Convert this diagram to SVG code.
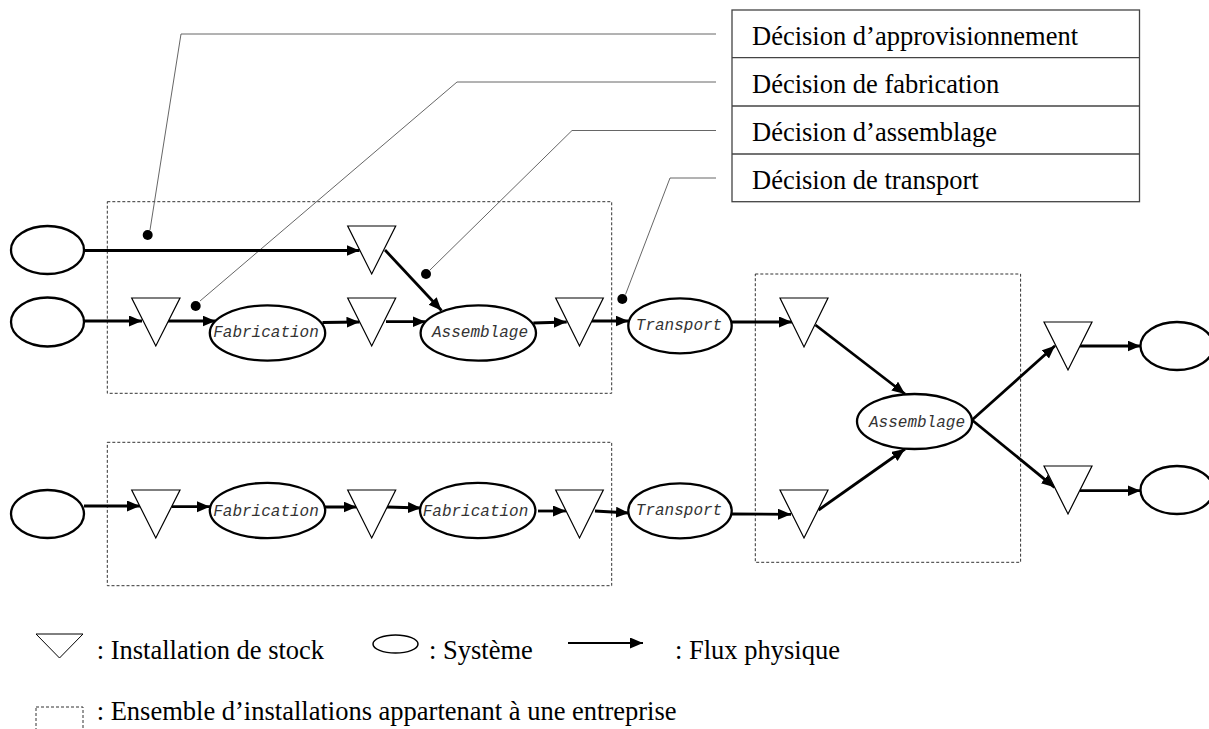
<svg xmlns="http://www.w3.org/2000/svg" width="1209" height="729" viewBox="0 0 1209 729">
<defs>
<marker id="ah" markerUnits="userSpaceOnUse" markerWidth="15" markerHeight="13" refX="13" refY="5.5" orient="auto">
<path d="M0,0 L13,5.5 L0,11 z" fill="#000"/>
</marker>
<style>
.box{fill:none;stroke:#333;stroke-width:1;stroke-dasharray:3 2}
.lead{fill:none;stroke:#555;stroke-width:0.9}
.dot{fill:#000}
.flow{fill:none;stroke:#000;stroke-width:2.8;marker-end:url(#ah)}
.tri{fill:#fff;stroke:#000;stroke-width:1.2}
.sys{fill:#fff;stroke:#000;stroke-width:2.3}
.lbl{font-family:"Liberation Mono","Courier New",monospace;font-style:italic;font-size:16px;fill:#333;text-anchor:middle}
.tab{fill:#fff;stroke:#444;stroke-width:1.3}
.tt{font-family:"Liberation Serif","Times New Roman",serif;font-size:26.5px;fill:#000}
</style>
</defs>
<rect width="1209" height="729" fill="#fff"/>

<g id="entreprises">
<rect class="box" x="107.3" y="201.7" width="504.4" height="191.6"/>
<rect class="box" x="107.3" y="442.3" width="504.4" height="143.4"/>
<rect class="box" x="755.3" y="274" width="265.3" height="288.3"/>
</g>

<g id="decisions">
<rect class="tab" x="732" y="10" width="407.5" height="191.7"/>
<line class="tab" x1="732" y1="57.7" x2="1139.5" y2="57.7"/>
<line class="tab" x1="732" y1="106" x2="1139.5" y2="106"/>
<line class="tab" x1="732" y1="154" x2="1139.5" y2="154"/>
<text class="tt" x="752" y="45">Décision d’approvisionnement</text>
<text class="tt" x="752" y="93">Décision de fabrication</text>
<text class="tt" x="752" y="140.5">Décision d’assemblage</text>
<text class="tt" x="752" y="188.5">Décision de transport</text>
</g>

<g id="leaders">
<polyline class="lead" points="716,34 181,34 150,230"/>
<polyline class="lead" points="716,82 457,82 200,301"/>
<polyline class="lead" points="716,130.5 572,130.5 430,270"/>
<polyline class="lead" points="716,178 670,178 625.5,294.5"/>
<circle class="dot" cx="147.7" cy="235" r="5"/>
<circle class="dot" cx="195.7" cy="306" r="5"/>
<circle class="dot" cx="426" cy="274" r="5"/>
<circle class="dot" cx="622.3" cy="299" r="5"/>
</g>

<g id="connectors">
<line class="flow" x1="84" y1="250.5" x2="359.5" y2="250.5"/>
<line class="flow" x1="385" y1="250" x2="441.5" y2="310.5"/>
<line class="flow" x1="84" y1="321" x2="142" y2="321"/>
<line class="flow" x1="168" y1="321" x2="215.5" y2="321"/>
<line class="flow" x1="322.5" y1="322.5" x2="359.5" y2="322"/>
<line class="flow" x1="386" y1="321.7" x2="425.5" y2="321.7"/>
<line class="flow" x1="533.3" y1="323" x2="566.7" y2="322"/>
<line class="flow" x1="591.7" y1="321" x2="628.5" y2="321"/>
<line class="flow" x1="731.7" y1="322" x2="792" y2="322"/>
<line class="flow" x1="815.5" y1="325" x2="905" y2="394"/>
<line class="flow" x1="84" y1="506" x2="140" y2="506"/>
<line class="flow" x1="172" y1="506.7" x2="210" y2="506.7"/>
<line class="flow" x1="324" y1="507" x2="356.5" y2="507"/>
<line class="flow" x1="387" y1="507" x2="421" y2="508"/>
<line class="flow" x1="538" y1="511" x2="566" y2="511"/>
<line class="flow" x1="595" y1="511" x2="629" y2="513"/>
<line class="flow" x1="732" y1="514" x2="791" y2="514.3"/>
<line class="flow" x1="818.6" y1="510" x2="905" y2="449"/>
<line class="flow" x1="972" y1="420" x2="1055" y2="345.7"/>
<line class="flow" x1="1080" y1="346" x2="1140.5" y2="346"/>
<line class="flow" x1="972" y1="420" x2="1054.5" y2="487.3"/>
<line class="flow" x1="1080" y1="490.7" x2="1140.5" y2="490.7"/>
</g>

<g id="systeme-src1"><ellipse class="sys" cx="47.5" cy="250" rx="36.5" ry="24"/></g>
<g id="systeme-src2"><ellipse class="sys" cx="47.5" cy="322" rx="36.5" ry="24.5"/></g>
<g id="systeme-src3"><ellipse class="sys" cx="47.5" cy="514" rx="36.5" ry="24"/></g>

<g id="stock-r1"><polygon class="tri" points="347.7,226 395.7,226 371.7,274"/></g>
<g id="stock-r2a"><polygon class="tri" points="131.7,298 180,298 155.8,346"/></g>
<g id="stock-r2b"><polygon class="tri" points="347.7,298 395.7,298 371.7,346"/></g>
<g id="stock-r2c"><polygon class="tri" points="555.7,298 603.3,298 579.5,346"/></g>
<g id="stock-r3a"><polygon class="tri" points="131.7,490 180,490 155.8,538"/></g>
<g id="stock-r3b"><polygon class="tri" points="347.7,490 395.7,490 371.7,538"/></g>
<g id="stock-r3c"><polygon class="tri" points="555.7,490 603.3,490 579.5,538"/></g>
<g id="stock-m1"><polygon class="tri" points="780,298 828,298 804,347"/></g>
<g id="stock-m2"><polygon class="tri" points="780,490 828,490 804,538"/></g>
<g id="stock-o1"><polygon class="tri" points="1044,322 1092,322 1068,370"/></g>
<g id="stock-o2"><polygon class="tri" points="1044,466 1092,466 1068,514"/></g>

<g id="fabrication-1"><ellipse class="sys" cx="267.5" cy="333" rx="57.7" ry="27.6"/><text class="lbl" x="266" y="337">Fabrication</text></g>
<g id="assemblage-1"><ellipse class="sys" cx="478.3" cy="333" rx="57.7" ry="27.7"/><text class="lbl" x="480" y="337">Assemblage</text></g>
<g id="transport-1"><ellipse class="sys" cx="680" cy="325.8" rx="51.7" ry="27.5"/><text class="lbl" x="679" y="330">Transport</text></g>
<g id="fabrication-2"><ellipse class="sys" cx="267.5" cy="510.5" rx="57.7" ry="27.7"/><text class="lbl" x="266" y="515.5">Fabrication</text></g>
<g id="fabrication-3"><ellipse class="sys" cx="477.7" cy="510.5" rx="57.7" ry="27.7"/><text class="lbl" x="475.5" y="515.5">Fabrication</text></g>
<g id="transport-2"><ellipse class="sys" cx="680" cy="510.8" rx="51.7" ry="27.5"/><text class="lbl" x="679" y="515">Transport</text></g>
<g id="assemblage-2"><ellipse class="sys" cx="914.5" cy="421.5" rx="57.5" ry="27.5"/><text class="lbl" x="917" y="426.5">Assemblage</text></g>

<g id="systeme-out1"><ellipse class="sys" cx="1177" cy="346" rx="36.5" ry="24"/></g>
<g id="systeme-out2"><ellipse class="sys" cx="1177" cy="490" rx="36.5" ry="24"/></g>

<g id="legende">
<polygon points="36,634 83,634 59.5,658" fill="#fff" stroke="#000" stroke-width="1"/>
<text class="tt" x="96.7" y="659">: Installation de stock</text>
<ellipse cx="395.5" cy="644" rx="22.5" ry="9" fill="#fff" stroke="#000" stroke-width="1.5"/>
<text class="tt" x="429" y="659">: Système</text>
<line x1="568" y1="643" x2="643" y2="643" stroke="#000" stroke-width="2" marker-end="url(#ah)"/>
<text class="tt" x="675" y="659">: Flux physique</text>
<rect class="box" x="36" y="707" width="47" height="40"/>
<text class="tt" x="96.7" y="720">: Ensemble d’installations appartenant à une entreprise</text>
</g>
</svg>
